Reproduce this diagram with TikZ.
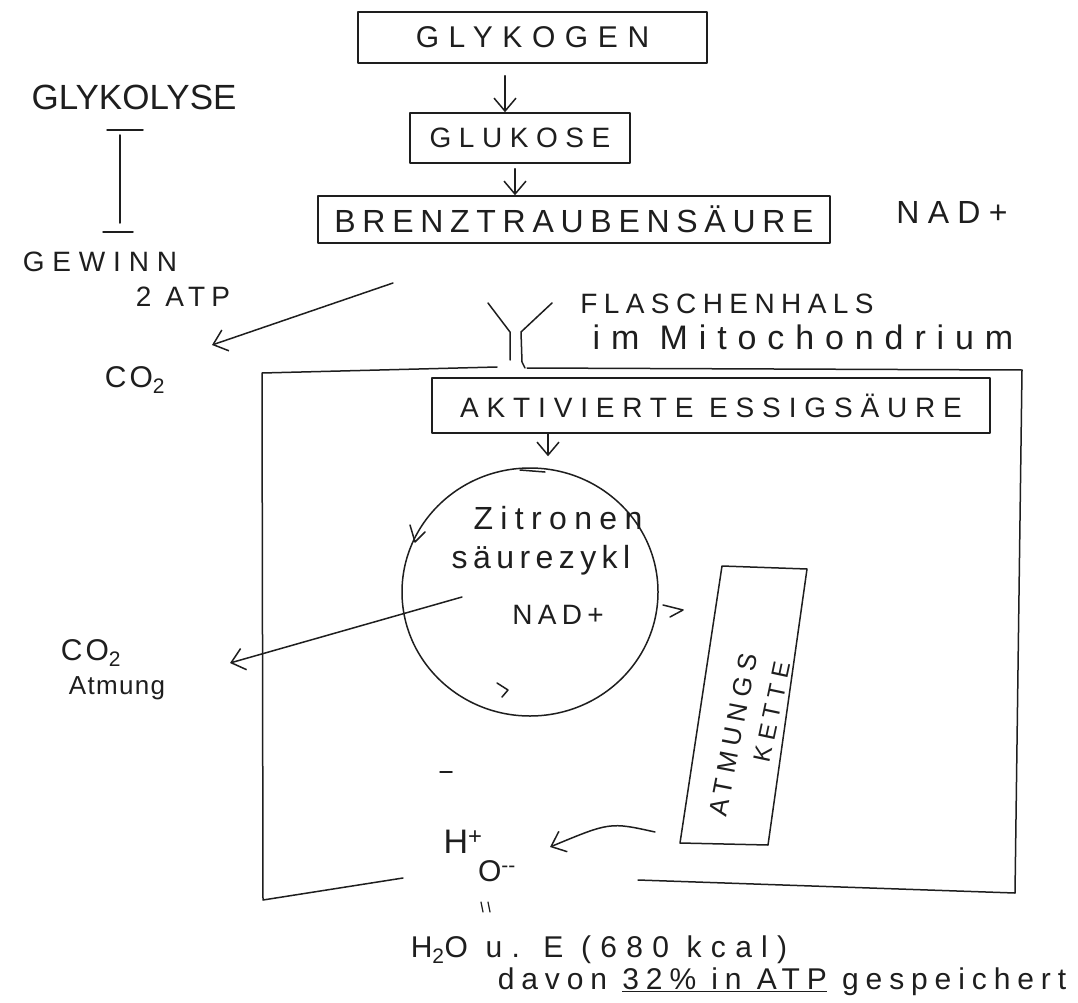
\documentclass[tikz,border=0pt]{standalone}
\usepackage{fontspec}
\setmainfont{Liberation Sans}
\usetikzlibrary{arrows.meta,calc,shapes.geometric}
\definecolor{inkc}{HTML}{1E1E1E}
\newcommand{\hf}[2]{\fontsize{#1}{#1}\selectfont\addfontfeature{LetterSpace=#2}}
\begin{document}
\begin{tikzpicture}[x=1pt,y=-1pt,
  ink/.style={draw=inkc, line width=1.5pt, line cap=round, line join=round},
  arr/.style={ink, -{Straight Barb[length=13pt,width=22pt]}},
  box/.style={ink, rectangle, inner sep=0pt, text=inkc},
  lbl/.style={text=inkc, inner sep=0pt}]
\useasboundingbox[fill=white] (0,0) rectangle (1078,1003);

% main chain
\node[box, minimum width=349pt, minimum height=51pt, font={\hf{30}{32}}] (glykogen) at (532.5,37.5) {GLYKOGEN};
\node[box, minimum width=220pt, minimum height=50pt, font={\hf{28}{27}}] (glukose) at (520,138) {GLUKOSE};
\node[box, minimum width=512pt, minimum height=47pt, font={\hf{32}{21}}] (brenz) at (574,219.5) {BRENZTRAUBENSÄURE};
\draw[arr] ($(glykogen.south)+(-27.5,12)$) -- ($(glukose.north)+(-15,0)$);
\draw[arr] ($(glukose.south)+(-5,5)$) -- ($(brenz.north)+(-59,0)$);
\node[lbl, font={\hf{32}{26}}] (nad1) at (952,212) {NAD+};

% left: Glykolyse
\node[lbl, font={\hf{35}{0}}] (glykolyse) at (134,97) {GLYKOLYSE};
\node[lbl, font={\hf{28}{28}}] (gewinn) at (100,262) {GEWINN};
\node[lbl, font={\hf{28}{22}}] (atp2) at (183,297) {2 ATP};
\draw[ink] (120,135) -- (120,223);
\draw[ink] (107,130) -- (143,130);
\draw[ink] (103,232) -- (133,232);
\node[lbl, font={\hf{30}{10}}] (co2a) at (135,380) {CO\textsubscript{2}};
\coordinate (bstart) at (393,283);
\coordinate (co2tip) at (212,345);
\draw[arr] (bstart) -- (co2tip);

% bottleneck
\node[lbl, font={\hf{28}{23}}] (flasche) at (727,304) {FLASCHENHALS};
\node[lbl, font={\hf{34}{32}}] (mito) at (803,337) {im Mitochondrium};
\draw[ink] (488,303) -- (510,332) -- (510,360);
\draw[ink] (552,303) -- (521,332) -- (522,362) -- (525,368);

% mitochondrion outline
\draw[ink] (497,367) -- (262,373) -- (263,900) -- (403,878);
\draw[ink] (527,368) -- (1022,370) -- (1015,893) -- (638,880);

% activated acetic acid
\node[box, minimum width=558pt, minimum height=55pt, font={\hf{28}{28}}] (aktiv) at (711,405.5) {AKTIVIERTE ESSIGSÄURE};

% citric acid cycle
\node[ellipse, ink, minimum width=256pt, minimum height=248pt, inner sep=0pt] (zyk) at (530,592) {};
\draw[arr] ($(aktiv.south)+(-163,0)$) -- ($(zyk.north)+(18,-11)$);
\node[lbl, font={\hf{32}{23}}] (zit1) at (558,518) {Zitronen};
\node[lbl, font={\hf{32}{17}}] (zit2) at (541,560) {säurezykl};
\node[lbl, font={\hf{28}{19}}] (nad2) at (558,615) {NAD+};
\draw[ink] (410,525) -- (415,542) -- (425,532);
\draw[ink] (497,683) -- (508,690) -- (502,697);
\draw[ink] (520,470) -- (545,472);
\draw[ink] (663,605) -- (683,610) -- (670,617);

% CO2 Atmung
\node[lbl, font={\hf{30}{10}}] (co2b) at (91,653) {CO\textsubscript{2}};
\node[lbl, font={\hf{26}{5}}] (atmung) at (117,688) {Atmung};
\coordinate (zstart) at (462,597);
\coordinate (co2btip) at (230,663);
\draw[arr] (zstart) -- (co2btip);

% respiratory chain
\draw[ink] (722,566) -- (807,569) -- (768,845) -- (680,843) -- cycle;
\node[lbl, rotate=79, font={\hf{26}{24}}] (atm1) at (733,735) {ATMUNGS};
\node[lbl, rotate=78, font={\hf{24}{25}}] (atm2) at (772,712) {KETTE};

% H+ O--
\node[lbl, font={\hf{34}{0}}] (hplus) at (463,842) {H\textsuperscript{+}};
\node[lbl, font={\hf{30}{0}}] (ominus) at (497,871) {O\textsuperscript{-{}-}};
\coordinate (atmstart) at (655,832);
\coordinate (htip) at (550,847);
\draw[arr] (atmstart) .. controls (610,822) .. (htip);
\draw[ink] (440,772) -- (452,772);

% result
\draw[ink, line width=1.2pt] (481,902) -- (483,912);
\draw[ink, line width=1.2pt] (488,902) -- (490,912);
\node[lbl, font={\hf{30}{31}}] (h2o) at (599,950) {H\textsubscript{2}O u. E (680 kcal)};
\node[lbl, font={\hf{30}{23}}] (davon) at (782,982) {davon \underline{32\% in ATP} gespeichert};
\end{tikzpicture}
\end{document}
